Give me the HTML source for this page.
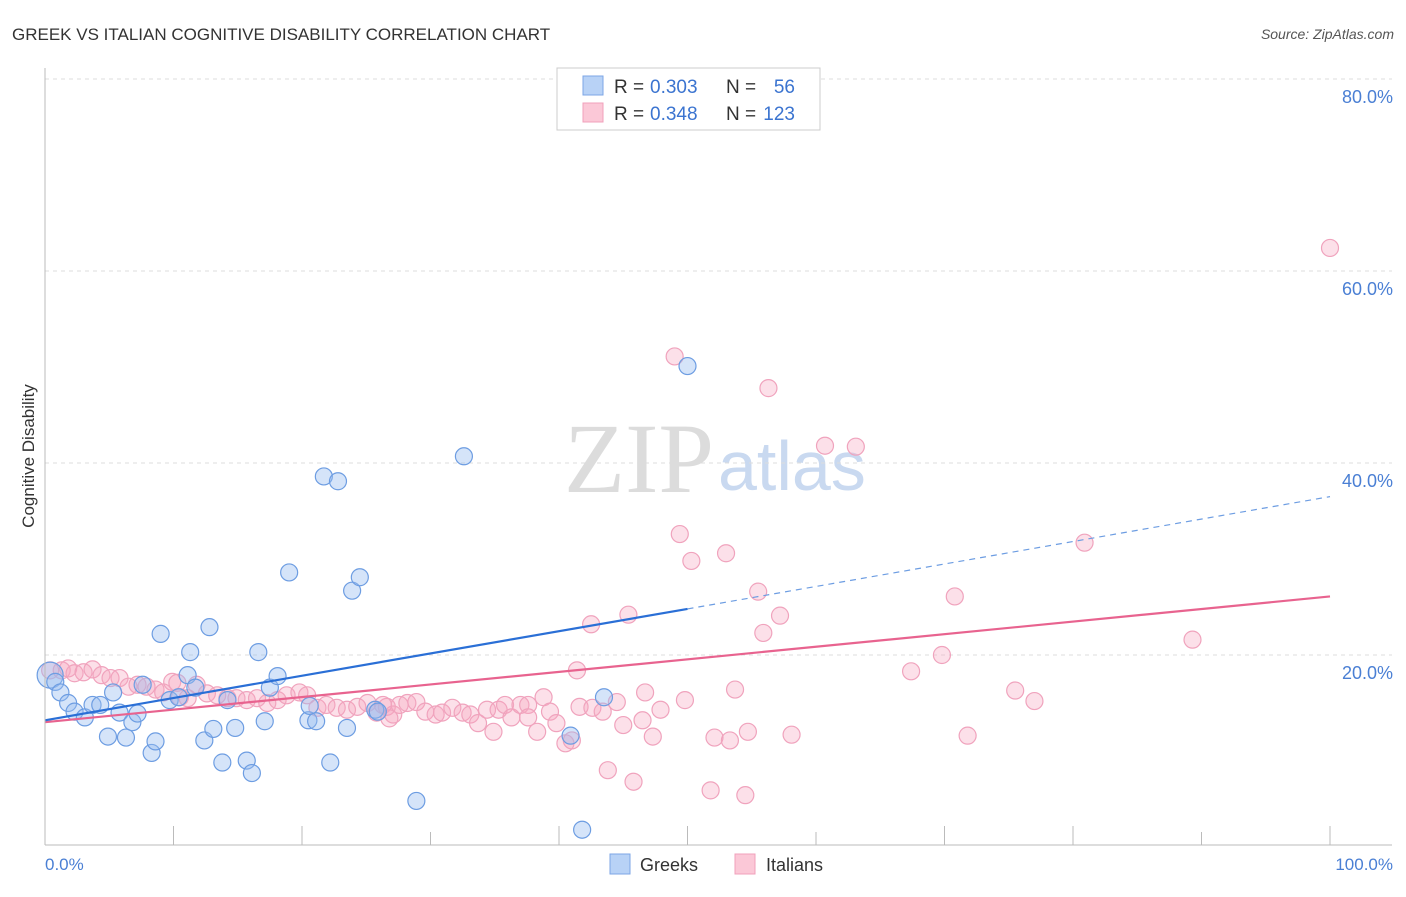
<!DOCTYPE html>
<html><head><meta charset="utf-8"><style>
body{margin:0;background:#fff;font-family:"Liberation Sans",sans-serif;}
</style></head><body>
<svg width="1406" height="892" id="chart" font-family="Liberation Sans, sans-serif">
<text x="12" y="40" font-size="17" fill="#333">GREEK VS ITALIAN COGNITIVE DISABILITY CORRELATION CHART</text>
<text x="1394" y="39" font-size="14" fill="#555" text-anchor="end" font-style="italic">Source: ZipAtlas.com</text>
<text x="714" y="492" font-size="100" fill="#dcdcdc" style="font-family:'Liberation Serif',serif" text-anchor="end">ZIP</text>
<text x="718" y="490" font-size="70" fill="#c9d9f0">atlas</text>
<text transform="translate(34,456) rotate(-90)" font-size="17" fill="#333" text-anchor="middle">Cognitive Disability</text>
<g id="grid"></g><g id="marks"></g><g id="lines"></g>
<line x1="45" y1="68" x2="45" y2="845" stroke="#bbb"/>
<line x1="45" y1="845" x2="1392" y2="845" stroke="#bbb"/>
<text x="45" y="870" font-size="17" fill="#4a7fd4">0.0%</text>
<text x="1393" y="870" font-size="17" fill="#4a7fd4" text-anchor="end">100.0%</text>
<g>
<rect x="557" y="68" width="263" height="62" fill="#fff" stroke="#ccc"/>
<rect x="583" y="76" width="20" height="19" fill="#b8d2f6" stroke="#7ca6e6"/>
<rect x="583" y="103" width="20" height="19" fill="#fbc8d7" stroke="#f0a0bb"/>
<text x="614" y="93" font-size="19" fill="#333">R =</text>
<text x="650" y="93" font-size="19" fill="#3b74d0">0.303</text>
<text x="726" y="93" font-size="19" fill="#333">N =</text>
<text x="795" y="93" font-size="19" fill="#3b74d0" text-anchor="end">56</text>
<text x="614" y="120" font-size="19" fill="#333">R =</text>
<text x="650" y="120" font-size="19" fill="#3b74d0">0.348</text>
<text x="726" y="120" font-size="19" fill="#333">N =</text>
<text x="795" y="120" font-size="19" fill="#3b74d0" text-anchor="end">123</text>
</g>
<g>
<rect x="610" y="854" width="20" height="20" fill="#b8d2f6" stroke="#7ca6e6"/>
<text x="640" y="871" font-size="18" fill="#333">Greeks</text>
<rect x="735" y="854" width="20" height="20" fill="#fbc8d7" stroke="#f0a0bb"/>
<text x="766" y="871" font-size="18" fill="#333">Italians</text>
</g>
</svg>
<script>
const yTicks=[20,40,60,80];
const yTickLabels=["20.0%","40.0%","60.0%","80.0%"];
const xTicks=[0,10,20,30,40,50,60,70,80,90,100];
const greeksX=[0.4,0.8,1.2,1.8,2.3,3.1,3.7,4.3,4.9,5.3,5.8,6.3,6.8,7.2,7.6,8.3,8.6,9.0,9.7,10.4,11.1,11.3,11.7,12.4,12.8,13.1,13.8,14.2,14.8,15.7,16.1,16.6,17.1,17.5,18.1,19.0,20.5,20.6,21.1,21.7,22.8,22.2,23.5,23.9,24.5,25.7,25.9,28.9,32.6,40.9,41.8,43.5,50.0];
const greeksY=[17.9,17.2,16.1,15.0,14.1,13.5,14.8,14.8,11.5,16.1,14.0,11.4,13.0,13.9,16.9,9.8,11.0,22.2,15.3,15.6,17.9,20.3,16.6,11.1,22.9,12.3,8.8,15.3,12.4,9.0,7.7,20.3,13.1,16.6,17.8,28.6,13.2,14.7,13.1,38.6,38.1,8.8,12.4,26.7,28.1,14.3,14.1,4.8,40.7,11.6,1.8,15.6,50.1];
const italiansX=[0.4,1.3,1.8,2.3,3.0,3.7,4.4,5.1,5.8,6.5,7.2,7.9,8.6,9.2,9.9,10.3,10.5,11.1,11.8,12.6,13.4,14.2,14.9,15.7,16.5,17.3,18.1,18.8,19.8,20.4,21.2,21.9,22.7,23.5,24.3,25.1,25.8,26.6,27.1,26.3,26.8,27.6,28.2,28.9,29.6,30.4,30.9,31.7,32.5,33.1,33.7,34.4,34.9,35.3,35.8,36.3,37.0,37.6,37.6,38.3,38.8,39.3,39.8,40.5,41.0,41.4,41.6,42.6,43.4,44.5,43.8,45.0,45.8,46.5,46.7,47.3,47.9,49.8,52.1,53.3,53.7,54.7,51.8,54.5,58.1,49.0,56.3,60.7,63.1,49.4,53.0,50.3,45.4,42.5,55.5,57.2,55.9,70.8,80.9,89.3,67.4,69.8,71.8,75.5,77.0,100];
const italiansY=[18.4,18.4,18.6,18.1,18.2,18.5,17.9,17.6,17.6,16.7,16.9,16.7,16.4,16.1,17.2,17.1,15.6,15.5,16.9,16.0,15.8,15.5,15.5,15.3,15.5,15.0,15.3,15.8,16.1,15.8,14.5,14.8,14.5,14.3,14.6,15.0,14.0,14.6,13.8,14.8,13.4,14.8,15.0,15.1,14.1,13.8,14.0,14.5,14.0,13.8,12.9,14.3,12.0,14.3,14.8,13.5,14.8,14.8,13.5,12.0,15.6,14.1,12.9,10.8,11.1,18.4,14.6,14.5,14.1,15.1,8.0,12.7,6.8,13.2,16.1,11.5,14.3,15.3,11.4,11.1,16.4,12.0,5.9,5.4,11.7,51.1,47.8,41.8,41.7,32.6,30.6,29.8,24.2,23.2,26.6,24.1,22.3,26.1,31.7,21.6,18.3,20.0,11.6,16.3,15.2,62.4];
const greeksTrend=[13.2,24.8,36.5]; // at x=0,50,100
const italiansTrend=[13.0,26.1]; // at x=0,100
const NS='http://www.w3.org/2000/svg';
const X=v=>45+v*12.85, Y=v=>847-v*9.6;
function mk(t,a,p){const e=document.createElementNS(NS,t);for(const k in a)e.setAttribute(k,a[k]);p.appendChild(e);return e;}
const grid=document.getElementById('grid'),marks=document.getElementById('marks'),lines=document.getElementById('lines');
yTicks.forEach((t,i)=>{
 const l=mk('line',{x1:45,x2:1392,y1:Y(t),y2:Y(t),stroke:'#ddd','stroke-dasharray':'4,4'},grid);
 
 
 const tx=mk('text',{x:1393,y:Y(t)+24,'font-size':18,fill:'#4a7fd4','text-anchor':'end'},grid);
 tx.textContent=yTickLabels[i];
 
 
});
xTicks.forEach(t=>{
 const l=mk('line',{x1:X(t),x2:X(t),y1:(t%30==0&&t>0)?832:826,y2:845,stroke:'#bbb'},grid);
 
 
});
italiansX.forEach((v,i)=>{
 const c=mk('circle',{cx:X(v),cy:Y(italiansY[i]),r:8.5,fill:'rgba(245,165,192,0.35)',stroke:'#f0a3bd','stroke-width':1.2},marks);
 
 
});
greeksX.forEach((v,i)=>{
 const c=mk('circle',{cx:X(v),cy:Y(greeksY[i]),r:i===0?13:8.5,fill:'rgba(150,188,240,0.4)',stroke:'#6d9de2','stroke-width':1.2},marks);
 
 
});
let l1=mk('line',{x1:X(0),y1:Y(italiansTrend[0]),x2:X(100),y2:Y(italiansTrend[1]),stroke:'#e8638f','stroke-width':2.2},lines);


let l2=mk('line',{x1:X(0),y1:Y(greeksTrend[0]),x2:X(50),y2:Y(greeksTrend[1]),stroke:'#2a6fd6','stroke-width':2.2},lines);


let l3=mk('line',{x1:X(50),y1:Y(greeksTrend[1]),x2:X(100),y2:Y(greeksTrend[2]),stroke:'#6d9de2','stroke-width':1.2,'stroke-dasharray':'6,5'},lines);


</script>
</body></html>
